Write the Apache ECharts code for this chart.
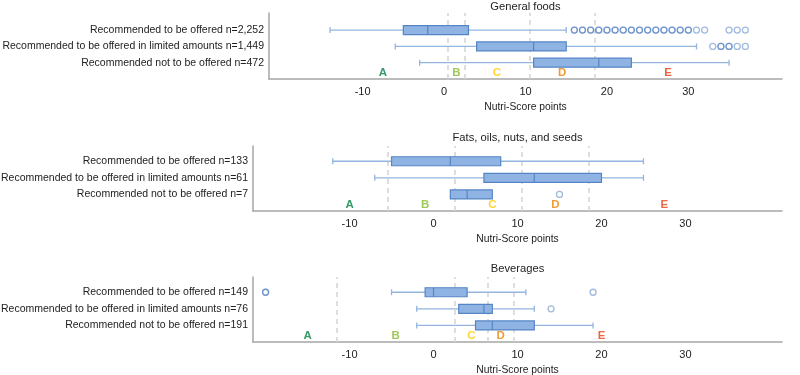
<!DOCTYPE html>
<html><head><meta charset="utf-8">
<script src="https://cdn.jsdelivr.net/npm/echarts@6/dist/echarts.min.js"></script>
<style>html,body{margin:0;padding:0;background:#fff}#c{width:800px;height:375px}</style>
</head><body><div id="c"></div>
<script>
// ---------- data ----------
const panelTitles = ['General foods', 'Fats, oils, nuts, and seeds', 'Beverages'];
const xAxisName = 'Nutri-Score points';
// row labels, order: top row first
const rowLabels = [
  ['Recommended to be offered n=2,252', 'Recommended to be offered in limited amounts n=1,449', 'Recommended not to be offered n=472'],
  ['Recommended to be offered n=133', 'Recommended to be offered in limited amounts n=61', 'Recommended not to be offered n=7'],
  ['Recommended to be offered n=149', 'Recommended to be offered in limited amounts n=76', 'Recommended not to be offered n=191']
];
// box stats [lowWhisker, Q1, median, Q3, highWhisker], top row first
const boxGeneral = [[-14, -5, -2, 3, 15], [-6, 4, 11, 15, 31], [-3, 11, 19, 23, 35]];
const boxFats = [[-12, -5, 2, 8, 25], [-7, 6, 12, 20, 25], [2, 2, 4, 7, 7]];
const boxBeverages = [[-5, -1, 0, 4, 11], [-2, 3, 6, 7, 12], [-2, 5, 7, 12, 19]];
// outliers (repeated values = several products with that score), top row first
const outGeneral = [
  [16,16,17,17,18,18,19,19,20,20,21,21,22,22,23,23,24,24,25,25,26,26,27,27,28,28,29,29,30,30,31,32,35,36,37],
  [33,34,34,35,35,36,37],
  []
];
const outFats = [[], [], [15]];
const outBeverages = [[-20, -20, 19], [14], []];
// Nutri-Score grade cut-offs (dashed lines)
const cutGeneral = [0.5, 2.5, 10.5, 18.5];
const cutFats = [-5.5, 2.5, 10.5, 18.5];
const cutBeverages = [-11.5, 2.5, 6.5, 9.5];
// grade letters and their x positions
const grades = ['A', 'B', 'C', 'D', 'E'];
const gradeColors = ['#038141', '#85bb2f', '#fecb02', '#ee8100', '#e63e11'];
const gradeXGeneral = [-7.5, 1.5, 6.5, 14.5, 27.5];
const gradeXFats = [-10, -1, 7, 14.5, 27.5];
const gradeXBeverages = [-15, -4.5, 4.5, 8, 20];
const xTicksShown = [-10, 0, 10, 20, 30];

// ---------- layout ----------
const FONT = 'Liberation Sans, Arial, sans-serif';
const boxes = [boxGeneral, boxFats, boxBeverages];
const outs = [outGeneral, outFats, outBeverages];
const cuts = [cutGeneral, cutFats, cutBeverages];
const gradeXs = [gradeXGeneral, gradeXFats, gradeXBeverages];
const grids = [
  {left: 269, right: 18, top: 13, height: 66, outerBoundsMode: 'none', containLabel: false},
  {left: 253, right: 18, top: 146, height: 65, outerBoundsMode: 'none', containLabel: false},
  {left: 253, right: 18, top: 277, height: 65, outerBoundsMode: 'none', containLabel: false}
];
const yMax = [4.05, 3.92, 3.92];
const titleTop = [1, 132, 263];
const letterY = 0.38;

const option = {
  animation: false,
  backgroundColor: '#fff',
  textStyle: {fontFamily: FONT},
  title: panelTitles.map((t, i) => ({
    text: t,
    left: (grids[i].left + 800 - grids[i].right) / 2,
    textAlign: 'center',
    top: titleTop[i],
    padding: 0,
    textStyle: {fontSize: 11.2, fontWeight: 'normal', color: '#222', fontFamily: FONT}
  })),
  grid: grids,
  xAxis: grids.map((g, i) => ({
    type: 'value', gridIndex: i, min: -21.5, max: 41.5,
    minInterval: 10, maxInterval: 10,
    name: xAxisName, nameLocation: 'middle', nameGap: 23,
    nameTextStyle: {fontSize: 10.3, color: '#222', fontFamily: FONT},
    axisLine: {show: true, onZero: false, lineStyle: {color: '#a6a6a6', width: 1.5}},
    axisTick: {show: false},
    splitLine: {show: false},
    axisLabel: {
      fontSize: 11, color: '#222', margin: 7, showMinLabel: false, showMaxLabel: false,
      formatter: v => xTicksShown.indexOf(v) >= 0 ? String(v) : ''
    }
  })),
  yAxis: grids.map((g, i) => ({
    type: 'value', gridIndex: i, min: 0, max: yMax[i], interval: 1,
    axisLine: {show: true, onZero: false, lineStyle: {color: '#a6a6a6', width: 1.5}},
    axisTick: {show: false},
    splitLine: {show: false},
    axisLabel: {
      fontSize: 10.5, color: '#222', margin: 5, showMaxLabel: false,
      formatter: v => (v >= 1 && v <= 3 && v === Math.round(v)) ? rowLabels[i][3 - v] : ''
    }
  })),
  series: []
};

for (let i = 0; i < 3; i++) {
  // dashed grade cut-offs
  option.series.push({
    type: 'line', xAxisIndex: i, yAxisIndex: i, data: [], silent: true, z: 1,
    markLine: {
      symbol: 'none', silent: true, label: {show: false}, z: 1,
      lineStyle: {color: '#d4d4d4', type: [5, 4], width: 1.5},
      data: cuts[i].map(c => ({xAxis: c}))
    }
  });
  // boxes
  option.series.push({
    type: 'custom', xAxisIndex: i, yAxisIndex: i, z: 3,
    encode: {x: [1, 2, 3, 4, 5], y: 0},
    data: boxes[i].map((b, r) => [3 - r].concat(b)),
    renderItem: function (params, api) {
      const y = api.value(0);
      const lo = api.coord([api.value(1), y]);
      const q1 = api.coord([api.value(2), y]);
      const md = api.coord([api.value(3), y]);
      const q3 = api.coord([api.value(4), y]);
      const hi = api.coord([api.value(5), y]);
      const cy = lo[1];
      const bh = 9, ch = 6;
      const wStyle = {stroke: '#93b5e0', lineWidth: 1.3};
      const bStyle = {stroke: '#5585c5', lineWidth: 1.2};
      const children = [];
      if (q1[0] > lo[0]) {
        children.push({type: 'line', shape: {x1: lo[0], y1: cy, x2: q1[0], y2: cy}, style: wStyle});
        children.push({type: 'line', shape: {x1: lo[0], y1: cy - ch / 2, x2: lo[0], y2: cy + ch / 2}, style: wStyle});
      }
      if (hi[0] > q3[0]) {
        children.push({type: 'line', shape: {x1: q3[0], y1: cy, x2: hi[0], y2: cy}, style: wStyle});
        children.push({type: 'line', shape: {x1: hi[0], y1: cy - ch / 2, x2: hi[0], y2: cy + ch / 2}, style: wStyle});
      }
      children.push({type: 'rect', shape: {x: q1[0], y: cy - bh / 2, width: q3[0] - q1[0], height: bh},
        style: {fill: '#8fb4e3', stroke: '#5585c5', lineWidth: 1.2}});
      children.push({type: 'line', shape: {x1: md[0], y1: cy - bh / 2, x2: md[0], y2: cy + bh / 2}, style: bStyle});
      return {type: 'group', children: children};
    }
  });
  // outliers
  const od = [];
  outs[i].forEach((arr, r) => arr.forEach(v => od.push([v, 3 - r])));
  option.series.push({
    type: 'scatter', xAxisIndex: i, yAxisIndex: i, data: od, symbol: 'circle', symbolSize: 6, z: 3,
    itemStyle: {color: 'rgba(0,0,0,0)', borderColor: 'rgba(58,110,185,0.6)', borderWidth: 1.3}
  });
  // grade letters
  option.series.push({
    type: 'scatter', xAxisIndex: i, yAxisIndex: i, symbolSize: 0, z: 3,
    data: grades.map((g, k) => ({
      value: [gradeXs[i][k], letterY, g],
      label: {color: gradeColors[k]}
    })),
    label: {show: true, position: 'inside', fontSize: 11.5, fontWeight: 'bold', fontFamily: FONT,
      formatter: p => p.value[2]}
  });
}

const chart = echarts.init(document.getElementById('c'), null, {renderer: 'canvas'});
chart.setOption(option);
</script></body></html>
